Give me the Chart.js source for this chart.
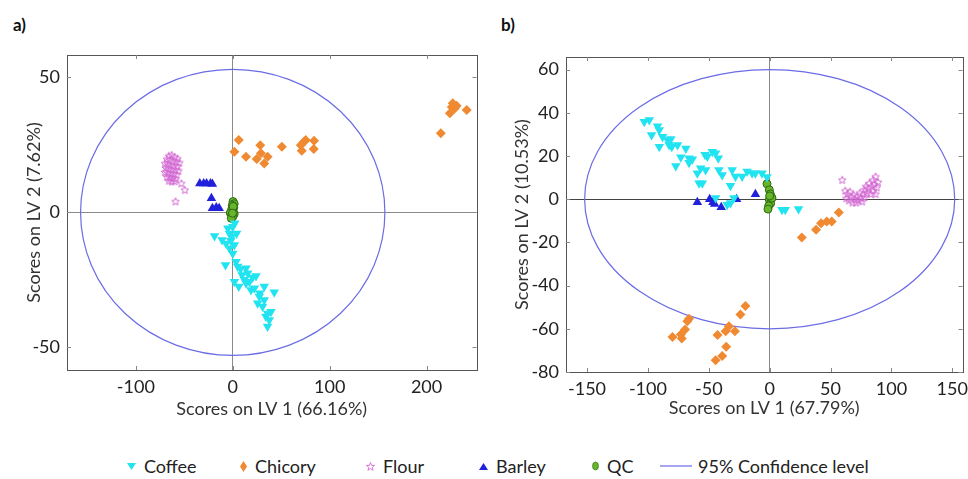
<!DOCTYPE html>
<html>
<head>
<meta charset="utf-8">
<script src="https://cdn.jsdelivr.net/npm/chart.js@4"></script>
<style>
  body { margin: 0; background: #fff; font-family: Lato, sans-serif; }
  #wrap { position: relative; width: 968px; height: 479px; overflow: hidden; }
  canvas { position: absolute; }
  .tag { position: absolute; top: 14px; font-weight: bold; font-size: 17px; color: #111; }
  .leg { position: absolute; top: 455px; font-size: 18px; color: #222; white-space: nowrap; }
  .leg svg { vertical-align: middle; margin-right: 8px; position: relative; top: -2px; }
</style>
</head>
<body>
<div id="wrap">
  <div class="tag" style="left:13px">a)</div>
  <div class="tag" style="left:501px">b)</div>
  <canvas id="leftChart" style="left:0;top:45px" width="482" height="379"></canvas>
  <canvas id="rightChart" style="left:490px;top:45px" width="478" height="378"></canvas>
  <div id="legend"></div>
</div>
<script>
// panel a) scores
const leftCoffee = [[-5,-5.9],[0,-5.3],[-3.4,-7.8],[4,-7.8],[-18.8,-8.8],[-11,-10.2],[-6.8,-11.5],[1.7,-12.1],
  [-3.4,-13.3],[0,-15.2],[-7.5,-19.5],[3.4,-18.3],[5.1,-20.1],[13.7,-20.7],[15.4,-22.6],[9.6,-23.2],[20.5,-24.1],
  [24,-23.6],[1.7,-25.7],[6.2,-27.5],[13.7,-26.3],[22.3,-28.1],[32.5,-27.5],[42.8,-29.6],[27.4,-31.2],[32.5,-32.5],
  [25.7,-33.7],[30.8,-34.9],[39.4,-36.8],[34.2,-38.6],[37.7,-39.9],[35.9,-42.3],[18.8,-28.8],[12,-25],[17.1,-25.7],
  [-1,-9],[2,-4],[-2,-10.5],[8,-21],[28,-30],[36,-37.5]];
const leftChicory = [[214.7,29.3],[224,36.7],[226,39],[227,40.4],[229,38.5],[231,39.5],[241.4,37.9],
  [1.7,22.5],[6.2,26.8],[13.7,20.6],[24.7,19.8],[28.4,24.9],[29.1,21.9],[32.5,18.1],[36,20.6],[50.7,24.3],
  [70.2,24.9],[71.2,22.8],[73.6,26.2],[75.3,26.8],[83.6,23.5],[83.9,26.5]];
const leftFlour = [[-66,21],[-63,21.3],[-60,20.5],[-57,20],[-68,19.8],[-65,19.5],[-62,19],[-58,18.8],[-55,18.5],
  [-70,18.2],[-67,17.8],[-64,17.5],[-61,17.3],[-57,17],[-69,16.5],[-66,16.2],[-63,16],[-59,15.8],[-56,15.5],
  [-70,15],[-67,14.6],[-64,14.5],[-61,14.2],[-58,14],[-68,13.2],[-65,13],[-62,12.8],[-59,12.5],[-66,11.8],
  [-63,11.5],[-60,11.6],[-53,10.8],[-49.5,8.4],[-59,4.1]];
const leftBarley = [[-34,10.7],[-30,10.7],[-27,10.7],[-23,10.7],[-21,10.5],[-22,5.2],[-21,1.5],[-14,1.5],[-17,1.8]];
const leftQC = [[0.3,4],[1.5,3.2],[-0.5,2.6],[1,1.8],[-1,1.2],[0.5,0.4],[-2.5,-0.2],[1.5,-0.6],[-1,-1],
  [0,-1.6],[-1.5,-2.2],[0.5,2.2],[-0.3,-0.3]];

// panel b) scores
const rightCoffee = [[-103,35.8],[-98.9,36.6],[-97,29.7],[-92.1,33.8],[-90.7,32],[-90.7,24.3],[-88,28.9],
  [-83.9,27.4],[-81.2,27.8],[-82.6,25.1],[-80.4,24.3],[-75.7,25.1],[-77.1,15.4],[-73,19.4],[-68.9,23.5],
  [-66.2,18.9],[-66.2,16.9],[-63.5,18.5],[-59.4,12],[-56.7,14.3],[-52.6,13.5],[-58,7.4],[-55.3,7.4],
  [-53.1,20.5],[-51.2,19.7],[-47.1,22],[-44.4,21.2],[-42.2,18.9],[-41.7,13.5],[-39,11.2],[-32.2,6.2],
  [-30.8,13.5],[-28.1,10.5],[-22.6,10.5],[-18.5,12.8],[-14.4,12],[-11.7,12],[-6.3,12],[-2.2,10.2],
  [-44.4,0.5],[-29.4,0.5],[-34.9,-2.6],[-32.2,-1.8],[10.1,-4.9],[12.8,-4.9],[23.7,-4.6]];
const rightChicory = [[26.4,-17.7],[38.1,-14.2],[42.2,-11.1],[46.9,-10.3],[51,-10.3],[56.8,-6.2],
  [-19.9,-49.5],[-24,-53.4],[-33.5,-58.8],[-28.6,-61.1],[-36.2,-61.1],[-42.8,-62.9],[-35.7,-68.3],
  [-39,-72.6],[-44.4,-74.6],[-66.2,-55.4],[-67.6,-56.5],[-69.5,-60.3],[-73,-62.6],[-72.2,-64.5],[-79.8,-63.8]];
const rightFlour = [[59.6,9],[62,4],[64,2.5],[63,0.5],[65,-0.5],[66,3.5],[67,1],[68,-1.5],[69,2],[70,0],
  [71,-1.5],[72,1.5],[73,-0.5],[74,3],[75,0.5],[76,-1],[77,2.5],[78,4.5],[78,1],[79,6],[80,3],[81,5],
  [82,7.5],[83,2.5],[84,6],[85,9],[85,4],[86,7],[87,10.5],[88,5.5],[89,8],[87,2.5]];
const rightBarley = [[-59.4,-1.4],[-49.3,0],[-46.6,-1.4],[-45.2,-2.2],[-39.8,-3.8],[-27.2,0],[-11.7,2.3]];
const rightQC = [[-2.2,7.1],[-0.3,4.3],[0.5,2.4],[1.4,0.9],[-0.3,-0.3],[0.8,-1.9],[-0.8,-3.1],[-1.4,-4.6],
  [1.9,0.5],[0,1.5]];

// axes, ticks and 95% confidence ellipses [cx, cy, rx, ry]
const leftXRange = [-171, 251.5];
const leftYRange = [-58.4, 58.3];
const leftXTicks = [-100, 0, 100, 200];
const leftYTicks = [-50, 0, 50];
const leftEllipse = [0, 0, 157, 53];
const rightXRange = [-167.3, 158.4];
const rightYRange = [-80, 65.8];
const rightXTicks = [-150, -100, -50, 0, 50, 100, 150];
const rightYTicks = [-80, -60, -40, -20, 0, 20, 40, 60];
const rightEllipse = [0, 0, 152, 60];

const seriesNames = ['Coffee', 'Chicory', 'Flour', 'Barley', 'QC'];
const ellipseColor = '#6b6be6';
const fontFamily = 'Lato, sans-serif';

// five point star outline used for the Flour markers
function makeStar(size, color) {
    const c = document.createElement('canvas');
    c.width = size; c.height = size;
    const g = c.getContext('2d');
    const r = size / 2 - 1, ri = r * 0.45;
    g.beginPath();
    for (let i = 0; i < 10; i++) {
        const rr = i % 2 ? ri : r;
        const a = -Math.PI / 2 + i * Math.PI / 5;
        g.lineTo(size / 2 + rr * Math.cos(a), size / 2 + 0.5 + rr * Math.sin(a));
    }
    g.closePath();
    g.strokeStyle = color;
    g.lineWidth = 1;
    g.stroke();
    return c;
}
const starImg = makeStar(10, '#d36ad3');

function toXY(arr) {
    return arr.map(p => ({x: p[0], y: p[1]}));
}

function buildDatasets(coffee, chicory, flour, barley, qc) {
    return [
        {label: 'Coffee', data: toXY(coffee), pointStyle: 'triangle', rotation: 180,
         backgroundColor: '#22e3f0', borderColor: '#22e3f0', borderWidth: 0, pointRadius: 5.5},
        {label: 'Chicory', data: toXY(chicory), pointStyle: 'rectRot',
         backgroundColor: '#f08a32', borderColor: '#f08a32', borderWidth: 0, pointRadius: 5},
        {label: 'Flour', data: toXY(flour), pointStyle: starImg},
        {label: 'Barley', data: toXY(barley), pointStyle: 'triangle',
         backgroundColor: '#2121dc', borderColor: '#2121dc', borderWidth: 0, pointRadius: 5.5},
        {label: 'QC', data: toXY(qc), pointStyle: 'circle',
         backgroundColor: '#67b52c', borderColor: '#2d6a12', borderWidth: 1, pointRadius: 4}
    ];
}

const ellipsePlugin = {
    id: 'ellipse',
    beforeDatasetsDraw(chart, args, opts) {
        const e = opts.shape;
        const xs = chart.scales.x, ys = chart.scales.y;
        const ctx = chart.ctx;
        const cx = xs.getPixelForValue(e[0]), cy = ys.getPixelForValue(e[1]);
        const rx = Math.abs(xs.getPixelForValue(e[0] + e[2]) - cx);
        const ry = Math.abs(ys.getPixelForValue(e[1] + e[3]) - cy);
        ctx.save();
        ctx.strokeStyle = ellipseColor;
        ctx.lineWidth = 1.2;
        ctx.beginPath();
        ctx.ellipse(cx, cy, rx, ry, 0, 0, Math.PI * 2);
        ctx.stroke();
        ctx.restore();
    }
};

// MATLAB style box with inward ticks
const boxPlugin = {
    id: 'box',
    afterDraw(chart) {
        const a = chart.chartArea, ctx = chart.ctx;
        const xs = chart.scales.x, ys = chart.scales.y;
        ctx.save();
        ctx.strokeStyle = '#555';
        ctx.lineWidth = 1;
        ctx.strokeRect(Math.round(a.left) + 0.5, Math.round(a.top) + 0.5,
            Math.round(a.right - a.left), Math.round(a.bottom - a.top));
        ctx.strokeStyle = '#888';
        ctx.beginPath();
        xs.ticks.forEach(t => {
            const px = Math.round(xs.getPixelForValue(t.value)) + 0.5;
            ctx.moveTo(px, a.bottom); ctx.lineTo(px, a.bottom - 4);
            ctx.moveTo(px, a.top); ctx.lineTo(px, a.top + 4);
        });
        ys.ticks.forEach(t => {
            const py = Math.round(ys.getPixelForValue(t.value)) + 0.5;
            ctx.moveTo(a.left, py); ctx.lineTo(a.left + 4, py);
            ctx.moveTo(a.right, py); ctx.lineTo(a.right - 4, py);
        });
        ctx.stroke();
        ctx.restore();
    }
};

function makeChart(id, datasets, o) {
    const ctx = document.getElementById(id).getContext('2d');
    return new Chart(ctx, {
        type: 'scatter',
        data: {datasets: datasets},
        plugins: [ellipsePlugin, boxPlugin],
        options: {
            responsive: false,
            animation: false,
            layout: {padding: o.padding},
            plugins: {
                legend: {display: false},
                tooltip: {enabled: false},
                ellipse: {shape: o.ellipse}
            },
            scales: {
                x: {
                    type: 'linear',
                    min: o.xRange[0], max: o.xRange[1],
                    afterBuildTicks: s => { s.ticks = o.xTicks.map(v => ({value: v})); },
                    afterFit: s => { s.height = o.xHeight; s.paddingLeft = 0; s.paddingRight = 0; },
                    grid: {drawTicks: false, lineWidth: 1,
                           color: c => (c.tick && c.tick.value === 0) ? o.xZero : 'rgba(0,0,0,0)'},
                    border: {display: false},
                    ticks: {padding: 6, color: '#222', font: {family: fontFamily, size: 18}, maxRotation: 0},
                    title: {display: true, text: o.xTitle, color: '#333', font: {family: fontFamily, size: 18}}
                },
                y: {
                    type: 'linear',
                    min: o.yRange[0], max: o.yRange[1],
                    afterBuildTicks: s => { s.ticks = o.yTicks.map(v => ({value: v})); },
                    afterFit: s => { s.width = o.yWidth; s.paddingTop = 0; s.paddingBottom = 0; },
                    grid: {drawTicks: false, lineWidth: 1,
                           color: c => (c.tick && c.tick.value === 0) ? o.yZero : 'rgba(0,0,0,0)'},
                    border: {display: false},
                    ticks: {padding: 7, color: '#222', font: {family: fontFamily, size: 18}},
                    title: {display: true, text: o.yTitle, color: '#333', font: {family: fontFamily, size: 18}}
                }
            }
        }
    });
}

makeChart('leftChart', buildDatasets(leftCoffee, leftChicory, leftFlour, leftBarley, leftQC), {
    padding: {left: 19, top: 10, right: 5, bottom: 0},
    xRange: leftXRange, yRange: leftYRange, xTicks: leftXTicks, yTicks: leftYTicks,
    xHeight: 54, yWidth: 48, ellipse: leftEllipse,
    xZero: '#8a8a8a', yZero: '#8a8a8a',
    xTitle: 'Scores on LV 1 (66.16%)', yTitle: 'Scores on LV 2 (7.62%)'
});

makeChart('rightChart', buildDatasets(rightCoffee, rightChicory, rightFlour, rightBarley, rightQC), {
    padding: {left: 17, top: 12, right: 3, bottom: 0},
    xRange: rightXRange, yRange: rightYRange, xTicks: rightXTicks, yTicks: rightYTicks,
    xHeight: 51, yWidth: 59, ellipse: rightEllipse,
    xZero: '#8a8a8a', yZero: '#444',
    xTitle: 'Scores on LV 1 (67.79%)', yTitle: 'Scores on LV 2 (10.53%)'
});

// shared legend under both panels
const legendIcons = [
    '<svg width="9" height="9"><polygon points="0,1 9,1 4.5,8" fill="#22e3f0"/></svg>',
    '<svg width="7" height="11"><polygon points="3.5,0 7,5.5 3.5,11 0,5.5" fill="#f08a32"/></svg>',
    '<svg width="9" height="9"><polygon points="4.5,0.5 5.6,3.4 8.6,3.4 6.2,5.3 7.1,8.3 4.5,6.5 1.9,8.3 2.8,5.3 0.4,3.4 3.4,3.4" fill="none" stroke="#d36ad3" stroke-width="0.9"/></svg>',
    '<svg width="9" height="9"><polygon points="4.5,1 9,8 0,8" fill="#2121dc"/></svg>',
    '<svg width="7" height="10"><ellipse cx="3.5" cy="5" rx="3" ry="4" fill="#67b52c" stroke="#2d6a12" stroke-width="0.6"/></svg>'
];
const legendLeft = [127, 240, 366, 479, 592];
const legend = document.getElementById('legend');
seriesNames.forEach((name, i) => {
    const d = document.createElement('div');
    d.className = 'leg';
    d.style.left = legendLeft[i] + 'px';
    d.innerHTML = legendIcons[i] + name;
    legend.appendChild(d);
});
const ci = document.createElement('div');
ci.className = 'leg';
ci.style.left = '660px';
ci.innerHTML = '<svg width="32" height="4" style="margin-right:6px"><line x1="0" y1="2" x2="32" y2="2" stroke="' +
    ellipseColor + '" stroke-width="1.2"/></svg>95% Confidence level';
legend.appendChild(ci);
</script>
</body>
</html>
